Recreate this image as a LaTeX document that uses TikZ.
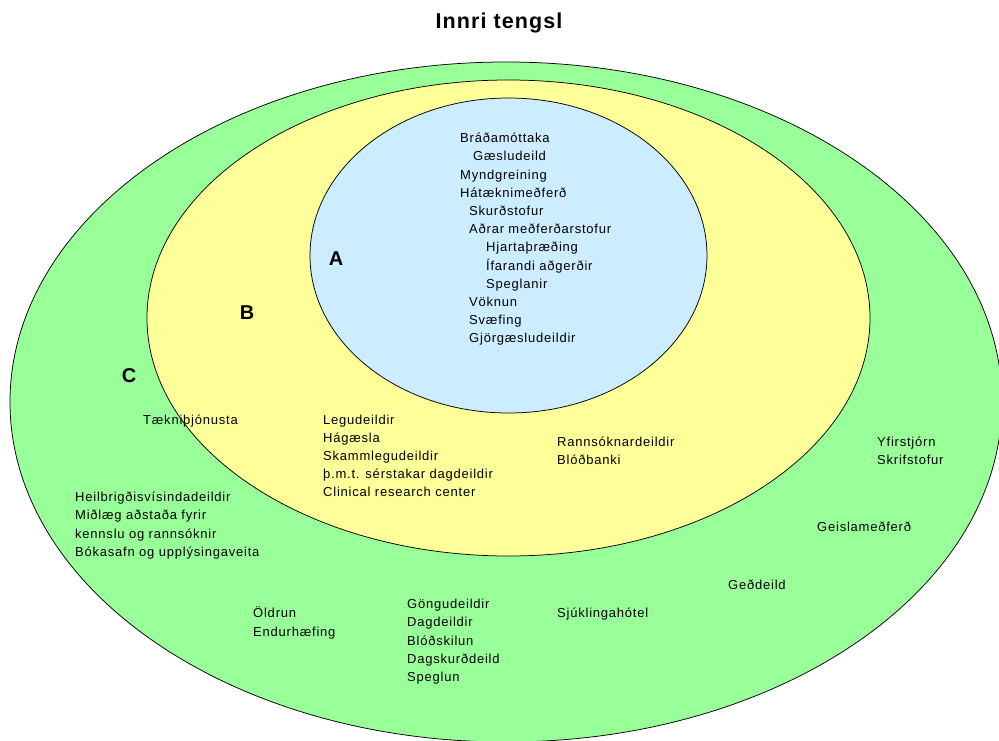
\documentclass[tikz,border=0pt]{standalone}
\usepackage{fontspec}
\setmainfont{Liberation Sans}
\newfontfamily\bodyfont[LetterSpace=6]{Liberation Sans}
\newfontfamily\headfont[LetterSpace=4]{Liberation Sans}
\newfontfamily\titlefont[LetterSpace=5]{Liberation Sans}
\definecolor{ringC}{RGB}{153,255,153}
\definecolor{ringB}{RGB}{255,255,153}
\definecolor{ringA}{RGB}{204,236,255}
\begin{document}
\begin{tikzpicture}[x=1pt,y=-1pt,
  ring/.style={draw=black, line width=0.75pt},
  item/.style={anchor=base west, inner sep=0pt, font=\bodyfont\fontsize{13}{15}\selectfont},
  zonelabel/.style={anchor=base, inner sep=0pt, font=\headfont\bfseries\fontsize{20}{24}\selectfont}]
\useasboundingbox (0,0) rectangle (999,741);
% rings
\draw[ring, fill=ringC] (506,402) ellipse [x radius=496pt, y radius=340pt];
\draw[ring, fill=ringB] (508.5,318) ellipse [x radius=361.5pt, y radius=238pt];
\draw[ring, fill=ringA] (508.5,255.5) ellipse [x radius=198.5pt, y radius=157.5pt];
% title
\node[zonelabel, font=\titlefont\bfseries\fontsize{21.5}{25}\selectfont] (title) at (499,28.3) {Innri tengsl};
% zone letters
\node[zonelabel] (lA) at (336,265) {A};
\node[zonelabel] (lB) at (247,319) {B};
\node[zonelabel] (lC) at (129,382.7) {C};
% zone A
\node[item] (a1) at (460,142.7) {Bráðamóttaka};
\node[item] (a2) at (473,160.9) {Gæsludeild};
\node[item] (a3) at (460,179.1) {Myndgreining};
\node[item] (a4) at (460,197.3) {Hátæknimeðferð};
\node[item] (a5) at (469,215.5) {Skurðstofur};
\node[item] (a6) at (469,233.7) {Aðrar meðferðarstofur};
\node[item] (a7) at (486,251.9) {Hjartaþræðing};
\node[item] (a8) at (486,270.1) {Ífarandi aðgerðir};
\node[item] (a9) at (486,288.3) {Speglanir};
\node[item] (a10) at (469,306.5) {Vöknun};
\node[item] (a11) at (469,324.7) {Svæfing};
\node[item] (a12) at (469,342.9) {Gjörgæsludeildir};
% zone B
\node[item] (b1) at (323,424.7) {Legudeildir};
\node[item] (b2) at (323,442.7) {Hágæsla};
\node[item] (b3) at (323,460.7) {Skammlegudeildir};
\node[item] (b4) at (323,478.7) {þ.m.t. sérstakar dagdeildir};
\node[item] (b5) at (323,496.7) {Clinical research center};
\node[item] (b6) at (557,446.7) {Rannsóknardeildir};
\node[item] (b7) at (557,464.7) {Blóðbanki};
% zone C
\node[item] (c1) at (143,424.7) {Tækniþjónusta};
\node[item] (c2) at (75,501.7) {Heilbrigðisvísindadeildir};
\node[item] (c3) at (75,519.9) {Miðlæg aðstaða fyrir};
\node[item] (c4) at (75,538.1) {kennslu og rannsóknir};
\node[item] (c5) at (75,556.3) {Bókasafn og upplýsingaveita};
\node[item] (c6) at (253,617.7) {Öldrun};
\node[item] (c7) at (253,636.2) {Endurhæfing};
\node[item] (c8) at (407,608.7) {Göngudeildir};
\node[item] (c9) at (407,626.9) {Dagdeildir};
\node[item] (c10) at (407,645.1) {Blóðskilun};
\node[item] (c11) at (407,663.3) {Dagskurðdeild};
\node[item] (c12) at (407,681.5) {Speglun};
\node[item] (c13) at (557,617.7) {Sjúklingahótel};
\node[item] (c14) at (877,446.7) {Yfirstjórn};
\node[item] (c15) at (877,464.4) {Skrifstofur};
\node[item] (c16) at (817,531.7) {Geislameðferð};
\node[item] (c17) at (728,589.7) {Geðdeild};
\end{tikzpicture}
\end{document}
